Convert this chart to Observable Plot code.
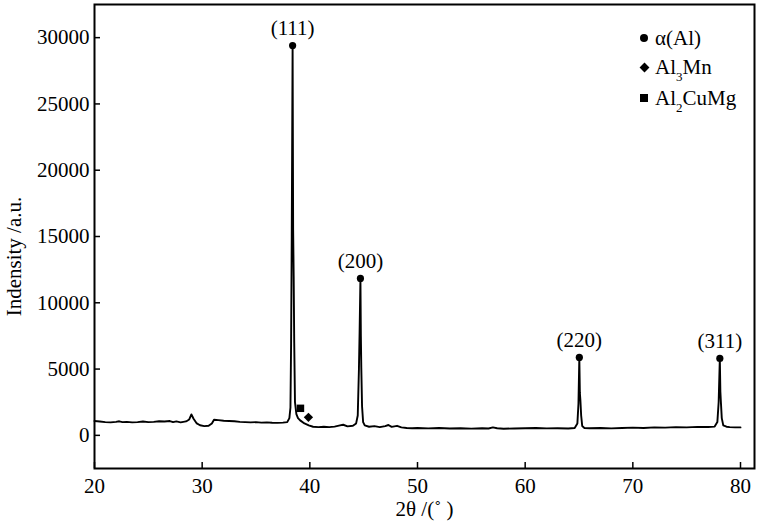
<!DOCTYPE html>
<html><head><meta charset="utf-8">
<script src="https://cdn.jsdelivr.net/npm/d3@7"></script>
<script src="https://cdn.jsdelivr.net/npm/@observablehq/plot@0.6"></script>
<style>
body{margin:0;background:#fff;}
#wrap{position:relative;width:774px;height:531px;font-family:"Liberation Serif","Times New Roman",serif;color:#000;}
.lg{position:absolute;left:636px;display:flex;align-items:center;height:28px;font-size:21px;white-space:nowrap;}
.lg sub{font-size:13px;vertical-align:-7px;line-height:0;}
.mk{width:16px;height:16px;display:flex;align-items:center;justify-content:center;margin-right:3px;}
</style></head><body><div id="wrap"></div>
<script>
// XRD pattern
const twoTheta = [20.0,20.5,21.0,21.5,22.0,22.3,22.6,23.0,23.5,24.0,24.5,25.0,25.5,26.0,26.5,27.0,27.3,27.6,28.0,28.5,28.8,29.0,29.2,29.5,29.8,30.2,30.6,30.9,31.1,31.5,32.0,32.5,33.0,33.5,34.0,34.5,35.0,35.5,36.0,36.5,37.0,37.5,37.9,38.1,38.2,38.26,38.32,38.40,38.45,38.5,38.55,38.62,38.75,38.9,39.1,39.5,39.9,40.3,40.8,41.3,41.8,42.3,42.8,43.1,43.5,44.0,44.3,44.45,44.56,44.62,44.70,44.74,44.78,44.85,44.95,45.1,45.5,46.0,46.5,47.0,47.3,47.6,48.1,48.5,49.0,49.5,50.0,51.0,52.0,53.0,54.0,55.0,56.0,56.6,57.0,57.4,58.0,59.0,60.0,61.0,62.0,63.0,64.0,64.6,64.85,64.95,65.03,65.08,65.13,65.2,65.3,65.5,66.0,67.0,68.0,69.0,70.0,71.0,72.0,73.0,74.0,75.0,76.0,77.0,77.6,77.85,77.97,78.08,78.13,78.18,78.26,78.4,78.7,79.0,79.5,80.0];
const intensity = [1080,1050,1000,980,1020,1060,1000,1020,980,1000,1050,1000,1020,1060,1040,1080,1000,1050,980,1050,1200,1580,1250,900,760,700,720,900,1180,1150,1100,1080,1060,1020,1000,980,1000,960,980,950,940,960,1000,1300,2100,6900,15000,29400,15500,12000,7000,2500,1600,1300,1130,900,760,650,620,650,620,660,750,800,680,720,900,1500,5000,7700,11840,7500,5100,2200,1000,750,650,700,620,700,780,640,720,600,560,540,560,530,550,520,540,510,540,520,600,540,500,520,540,560,530,540,520,560,900,2400,5880,3200,2650,1500,700,560,540,560,530,560,580,560,600,580,620,600,640,630,660,1000,2500,5800,3300,2500,1300,750,650,620,600,600];

const peakLabels = ["(111)","(200)","(220)","(311)"];
const peakTheta = [38.40,44.70,65.03,78.08];
const peakIntensity = [29400,11840,5880,5800];

const minorTheta = [39.13,39.87];
const minorIntensity = [2040,1360];
const minorSymbol = ["square","diamond2"];

const legendLabels = ["α(Al)","Al<sub>3</sub>Mn","Al<sub>2</sub>CuMg"];
const legendShapes = ["circle","diamond","square"];

const xTicks = [20,30,40,50,60,70,80];
const yTicks = [0,5000,10000,15000,20000,25000,30000];
const xLabel = "2θ /(˚ )";
const yLabel = "Indensity /a.u.";

const W=774,H=531,mL=94,mR=20,mT=4,mB=63;
const plotW=W-mL-mR, plotH=H-mT-mB;

const pattern = twoTheta.map((t,i)=>({t, v:intensity[i]}));
const peaks = peakTheta.map((t,i)=>({t, v:peakIntensity[i], label:peakLabels[i]}));
const minor = minorTheta.map((t,i)=>({t, v:minorIntensity[i], s:minorSymbol[i]}));

const chart = Plot.plot({
  width:W, height:H, marginLeft:mL, marginRight:mR, marginTop:mT, marginBottom:mB,
  style:{fontFamily:'"Liberation Serif","Times New Roman",serif', fontSize:"21px", color:"#000", background:"#fff", overflow:"visible"},
  x:{domain:[20,81.3], label:null},
  y:{domain:[-2500,32500], label:null},
  marks:[
    Plot.axisX(xTicks,{tickSize:0, tickPadding:10, fontSize:21, label:null}),
    Plot.axisY(yTicks,{tickSize:0, tickPadding:5, fontSize:21, label:null, tickFormat:d=>String(d)}),
    Plot.tickX(xTicks,{x:d=>d, insetTop:plotH-6, stroke:"#000", strokeWidth:1.5}),
    Plot.tickY(yTicks,{y:d=>d, insetRight:plotW-6, stroke:"#000", strokeWidth:1.5}),
    Plot.line(pattern,{x:"t", y:"v", stroke:"#000", strokeWidth:1.9, curve:"linear"}),
    Plot.dot(peaks,{x:"t", y:"v", r:3.6, fill:"#000", stroke:null}),
    Plot.text(peaks,{x:"t", y:"v", text:"label", dy:-17, fontSize:21, fill:"#000"}),
    Plot.dot(minor,{x:"t", y:"v", symbol:"s", r:4.2, fill:"#000", stroke:null}),
    Plot.text([xLabel],{frameAnchor:"bottom", text:d=>d, textAnchor:"middle", dy:47, fontSize:21, fill:"#000"}),
    Plot.text([yLabel],{frameAnchor:"left", text:d=>d, textAnchor:"middle", rotate:-90, dx:-80, dy:20, fontSize:21, fill:"#000"}),
    Plot.frame({stroke:"#000", strokeWidth:2})
  ]
});
const wrap = document.getElementById("wrap");
wrap.appendChild(chart);

const rowTop = [24, 53, 84];
legendLabels.forEach((lab,i)=>{
  const row = document.createElement("div");
  row.className="lg";
  row.style.top = rowTop[i]+"px";
  const mk = document.createElement("div");
  mk.className="mk";
  const shp = document.createElement("div");
  shp.style.background="#000";
  if (legendShapes[i]==="circle"){shp.style.width="8px";shp.style.height="8px";shp.style.borderRadius="50%";}
  else if (legendShapes[i]==="diamond"){shp.style.width="7px";shp.style.height="7px";shp.style.transform="rotate(45deg)";}
  else {shp.style.width="8px";shp.style.height="8px";}
  mk.appendChild(shp);
  const tx = document.createElement("span");
  tx.innerHTML = lab;
  row.appendChild(mk); row.appendChild(tx);
  wrap.appendChild(row);
});
</script></body></html>
